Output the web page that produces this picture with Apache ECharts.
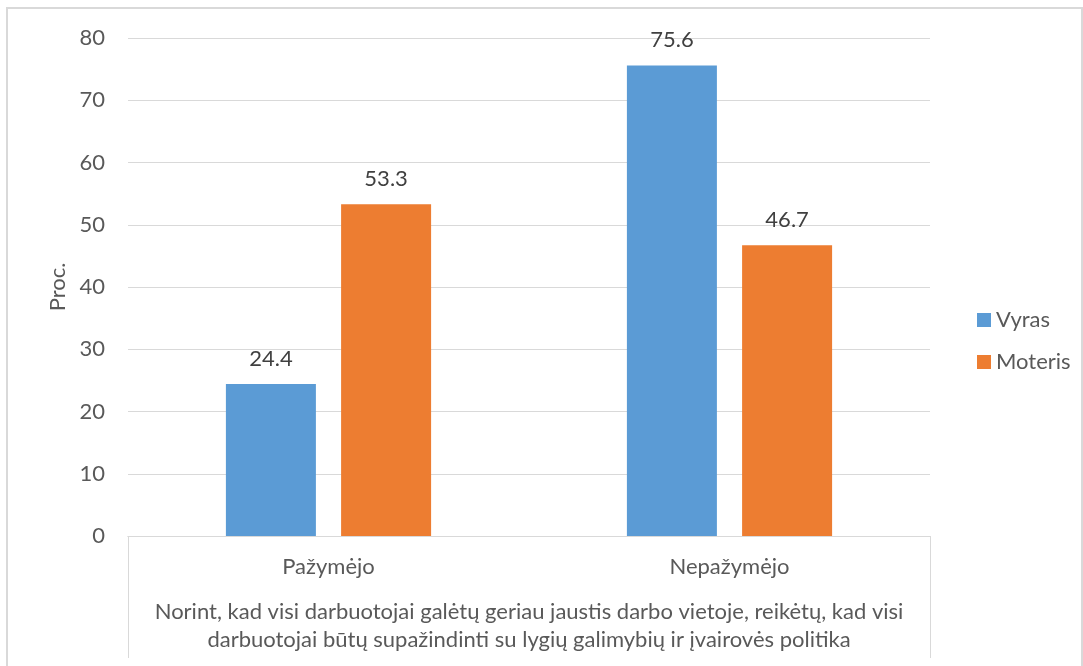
<!DOCTYPE html>
<html>
<head>
<meta charset="utf-8">
<script src="https://cdn.jsdelivr.net/npm/echarts@6/dist/echarts.min.js"></script>
<style>
html,body{margin:0;padding:0;background:#fff;}
#chart{width:1083px;height:666px;}
</style>
</head>
<body>
<div id="chart"></div>
<script>
const categories = ['Pažymėjo', 'Nepažymėjo'];
const groupTitle = 'Norint, kad visi darbuotojai galėtų geriau jaustis darbo vietoje, reikėtų, kad visi\ndarbuotojai būtų supažindinti su lygių galimybių ir įvairovės politika';
const seriesNames = ['Vyras', 'Moteris'];
const vyras = [24.4, 75.6];
const moteris = [53.3, 46.7];
const yTicks = [0, 10, 20, 30, 40, 50, 60, 70, 80];

const FONT = 'Lato';
const FS = 22;
const chart = echarts.init(document.getElementById('chart'), null, {renderer: 'canvas'});
const labelStyle = {show: true, position: 'top', distance: 14, color: '#404040', fontSize: FS, fontFamily: FONT,
  formatter: p => p.value.toFixed(1)};
chart.setOption({
  animation: false,
  textStyle: {fontFamily: FONT},
  graphic: [{type: 'rect', shape: {x: 7, y: 8, width: 1075, height: 700},
    style: {fill: 'none', stroke: '#d9d9d9', lineWidth: 2}, silent: true, z: -1}],
  grid: {left: 128, right: 153, top: 38, bottom: 130},
  legend: {
    orient: 'vertical', left: 972, top: 304, itemWidth: 14, itemHeight: 14, itemGap: 20,
    icon: 'rect', data: seriesNames,
    textStyle: {color: '#595959', fontSize: FS, fontFamily: FONT, padding: [0, 0, 0, 0]}
  },
  xAxis: [{
    type: 'category', data: categories, position: 'bottom',
    axisLine: {show: true, lineStyle: {color: '#d9d9d9', width: 1}},
    axisTick: {show: false},
    axisLabel: {color: '#595959', fontSize: FS, fontFamily: FONT, margin: 20}
  }, {
    type: 'category', data: [groupTitle], position: 'bottom',
    axisLine: {show: true, lineStyle: {color: '#d9d9d9', width: 1}},
    axisTick: {show: true, length: 122, lineStyle: {color: '#d9d9d9', width: 1}},
    axisLabel: {color: '#595959', fontSize: FS, fontFamily: FONT, margin: 62, lineHeight: 28, align: 'center'}
  }],
  yAxis: {
    type: 'value', min: 0, max: 80, interval: 10,
    name: 'Proc.', nameLocation: 'middle', nameGap: 56, nameRotate: 90,
    nameTextStyle: {color: '#595959', fontSize: FS, fontFamily: FONT},
    axisLine: {show: false}, axisTick: {show: false},
    axisLabel: {color: '#595959', fontSize: FS, fontFamily: FONT, margin: 23,
      formatter: v => yTicks.includes(v) ? String(v) : ''},
    splitLine: {lineStyle: {color: '#d9d9d9', width: 1}}
  },
  series: [
    {name: seriesNames[0], type: 'bar', xAxisIndex: 0, data: vyras, barWidth: 90, barGap: '28%',
      itemStyle: {color: '#5B9BD5'}, label: labelStyle},
    {name: seriesNames[1], type: 'bar', xAxisIndex: 0, data: moteris, barWidth: 90, barGap: '28%',
      itemStyle: {color: '#ED7D31'}, label: labelStyle}
  ]
});
</script>
</body>
</html>
